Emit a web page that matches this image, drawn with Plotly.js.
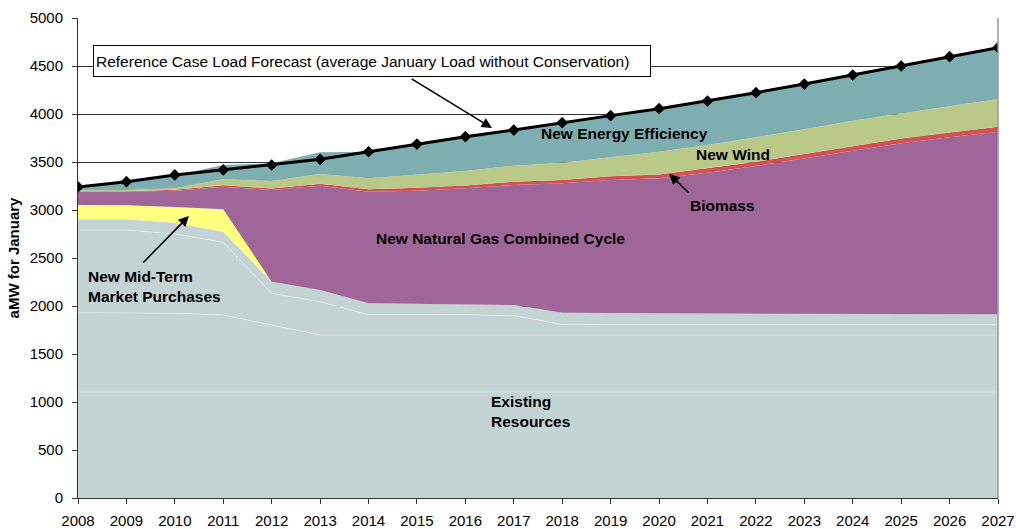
<!DOCTYPE html>
<html>
<head>
<meta charset="utf-8">
<script src="https://cdn.plot.ly/plotly-3.0.1.min.js"></script>
<style>
  html, body { margin: 0; padding: 0; background: #fff; }
  #chart { width: 1016px; height: 529px; }
</style>
</head>
<body>
<div id="chart"></div>
<script>
// ---- Data (aMW, average January) ----
const years = [2008,2009,2010,2011,2012,2013,2014,2015,2016,2017,2018,2019,2020,2021,2022,2023,2024,2025,2026,2027];

// Existing resources, split into the (same-coloured) sub-layers visible in the chart
const existingBase  = [1104,1104,1104,1104,1104,1104,1104,1104,1104,1104,1104,1104,1104,1104,1104,1104,1104,1104,1104,1104];
const existingMid   = [826,826,821,802,698,594,594,594,594,594,594,594,594,594,594,594,594,594,594,594];
const existingUpper = [862,862,825,757,330,347,211,211,211,202,110,107,107,107,107,107,107,107,107,107];
const existingTop   = [111,111,118,111,121,122,119,112,112,110,122,119,119,117,115,115,113,112,110,108];

const marketPurchases = [149,146,163,233,0,0,0,0,0,0,0,0,0,0,0,0,0,0,0,0];
const newNGCC         = [139,142,170,236,955,1086,1163,1180,1205,1250,1348,1388,1406,1467,1538,1618,1697,1778,1842,1903];
const biomass         = [5,5,10,15,15,20,25,30,30,35,35,40,40,45,45,45,50,50,50,52];
const newWind         = [10,12,15,62,79,102,114,134,150,167,180,197,238,243,254,257,265,262,276,288];
const energyEff       = [30,82,134,149,184,226,277,322,358,371,417,434,447,458,465,472,476,493,514,535];

const loadForecast = [3240,3295,3365,3417,3469,3528,3607,3687,3764,3833,3910,3983,4055,4135,4222,4312,4406,4500,4597,4691];

const yTicks = [0,500,1000,1500,2000,2500,3000,3500,4000,4500,5000];

// ---- Styles ----
const FONT = 'Liberation Sans, Arial, Helvetica, sans-serif';
const C_GRAY = '#C4D3D3', C_YEL = '#FFFF80', C_PUR = '#A0669A',
      C_RED = '#D05252', C_GRN = '#BAC987', C_TEAL = '#7FAEB0';

function area(name, y, color, lineColor, lineWidth) {
  return {
    x: years, y: y, name: name, type: 'scatter', mode: 'lines',
    stackgroup: 'one', fillcolor: color,
    line: { color: lineColor || color, width: lineWidth === undefined ? 0 : lineWidth },
    hoverinfo: 'x+y+name'
  };
}

const subLine = 'rgba(255,255,255,0.35)';
const traces = [
  area('Existing Resources (a)', existingBase, C_GRAY, subLine, 1),
  area('Existing Resources (b)', existingMid, C_GRAY, subLine, 1),
  area('Existing Resources (c)', existingUpper, C_GRAY, subLine, 1),
  area('Existing Resources', existingTop, C_GRAY),
  area('New Mid-Term Market Purchases', marketPurchases, C_YEL),
  area('New Natural Gas Combined Cycle', newNGCC, C_PUR),
  area('Biomass', biomass, C_RED),
  area('New Wind', newWind, C_GRN),
  area('New Energy Efficiency', energyEff, C_TEAL),
  {
    x: years, y: loadForecast, name: 'Reference Case Load Forecast',
    type: 'scatter', mode: 'lines+markers',
    line: { color: '#000', width: 3 },
    marker: { symbol: 'diamond', size: 9, color: '#000' }
  }
];

const lblFont = { family: FONT, size: 15.5, color: '#000', weight: 'bold' };

function label(text, x, y, xanchor, align) {
  return { text: '<b>' + text + '</b>', x: x, y: y, xref: 'x', yref: 'y',
           showarrow: false, xanchor: xanchor || 'center', align: align || 'center',
           font: lblFont };
}
function arrow(tx, ty, hx, hy) {
  return { text: '', x: hx, y: hy, ax: tx, ay: ty, xref: 'x', yref: 'y',
           axref: 'x', ayref: 'y', showarrow: true, arrowhead: 2, arrowsize: 1.3,
           arrowwidth: 1.6, arrowcolor: '#000', standoff: 0, startstandoff: 0 };
}

const annotations = [
  label('New Energy Efficiency', 2019.28, 3792),
  label('New Wind', 2021.53, 3583),
  label('Biomass', 2021.32, 3052),
  label('New Natural Gas Combined Cycle', 2016.72, 2708),
  label('New Mid-Term<br>Market Purchases', 2008.17, 2208, 'left', 'left'),
  label('Existing<br>Resources', 2016.49, 896, 'left', 'left'),
  {
    text: 'Reference Case Load Forecast (average January Load without Conservation)',
    x: 0.3196, y: 0.910, xref: 'paper', yref: 'paper', showarrow: false,
    xanchor: 'center', yanchor: 'middle', align: 'left', width: 552, height: 26,
    bgcolor: '#fff', bordercolor: '#000', borderwidth: 1, borderpad: 2,
    font: { family: FONT, size: 15.5, color: '#000' }
  },
  arrow(2014.86, 4375, 2016.55, 3854),
  arrow(2009.32, 2438, 2010.29, 2938),
  arrow(2020.64, 3167, 2020.21, 3375)
];

const layout = {
  width: 1016, height: 529,
  margin: { l: 78, r: 18, t: 18, b: 31, pad: 0 },
  paper_bgcolor: '#fff', plot_bgcolor: '#fff',
  showlegend: false,
  font: { family: FONT, size: 15, color: '#000' },
  xaxis: {
    range: [2008, 2027], tickmode: 'array', tickvals: years, ticktext: years.map(String),
    showgrid: false, zeroline: false, showline: true, linecolor: '#333', linewidth: 1,
    ticks: 'outside', ticklen: 5, tickcolor: '#333', ticklabelstandoff: 4,
    tickfont: { family: FONT, size: 15, color: '#000' }
  },
  yaxis: {
    range: [0, 5000], tickmode: 'array', tickvals: yTicks, ticktext: yTicks.map(String),
    showgrid: true, gridcolor: '#333', gridwidth: 1, zeroline: false,
    showline: true, linecolor: '#333', linewidth: 1,
    ticks: 'outside', ticklen: 5, tickcolor: '#333', ticklabelstandoff: 6,
    tickfont: { family: FONT, size: 15, color: '#000' },
    title: { text: '<b>aMW for January</b>', font: { family: FONT, size: 15, color: '#000' }, standoff: 6 }
  },
  shapes: [
    { type: 'line', xref: 'paper', yref: 'paper', x0: 1, x1: 1, y0: 0, y1: 1,
      line: { color: '#999', width: 1.5 } }
  ],
  annotations: annotations
};

Plotly.newPlot('chart', traces, layout, { staticPlot: true, displayModeBar: false });
</script>
</body>
</html>
